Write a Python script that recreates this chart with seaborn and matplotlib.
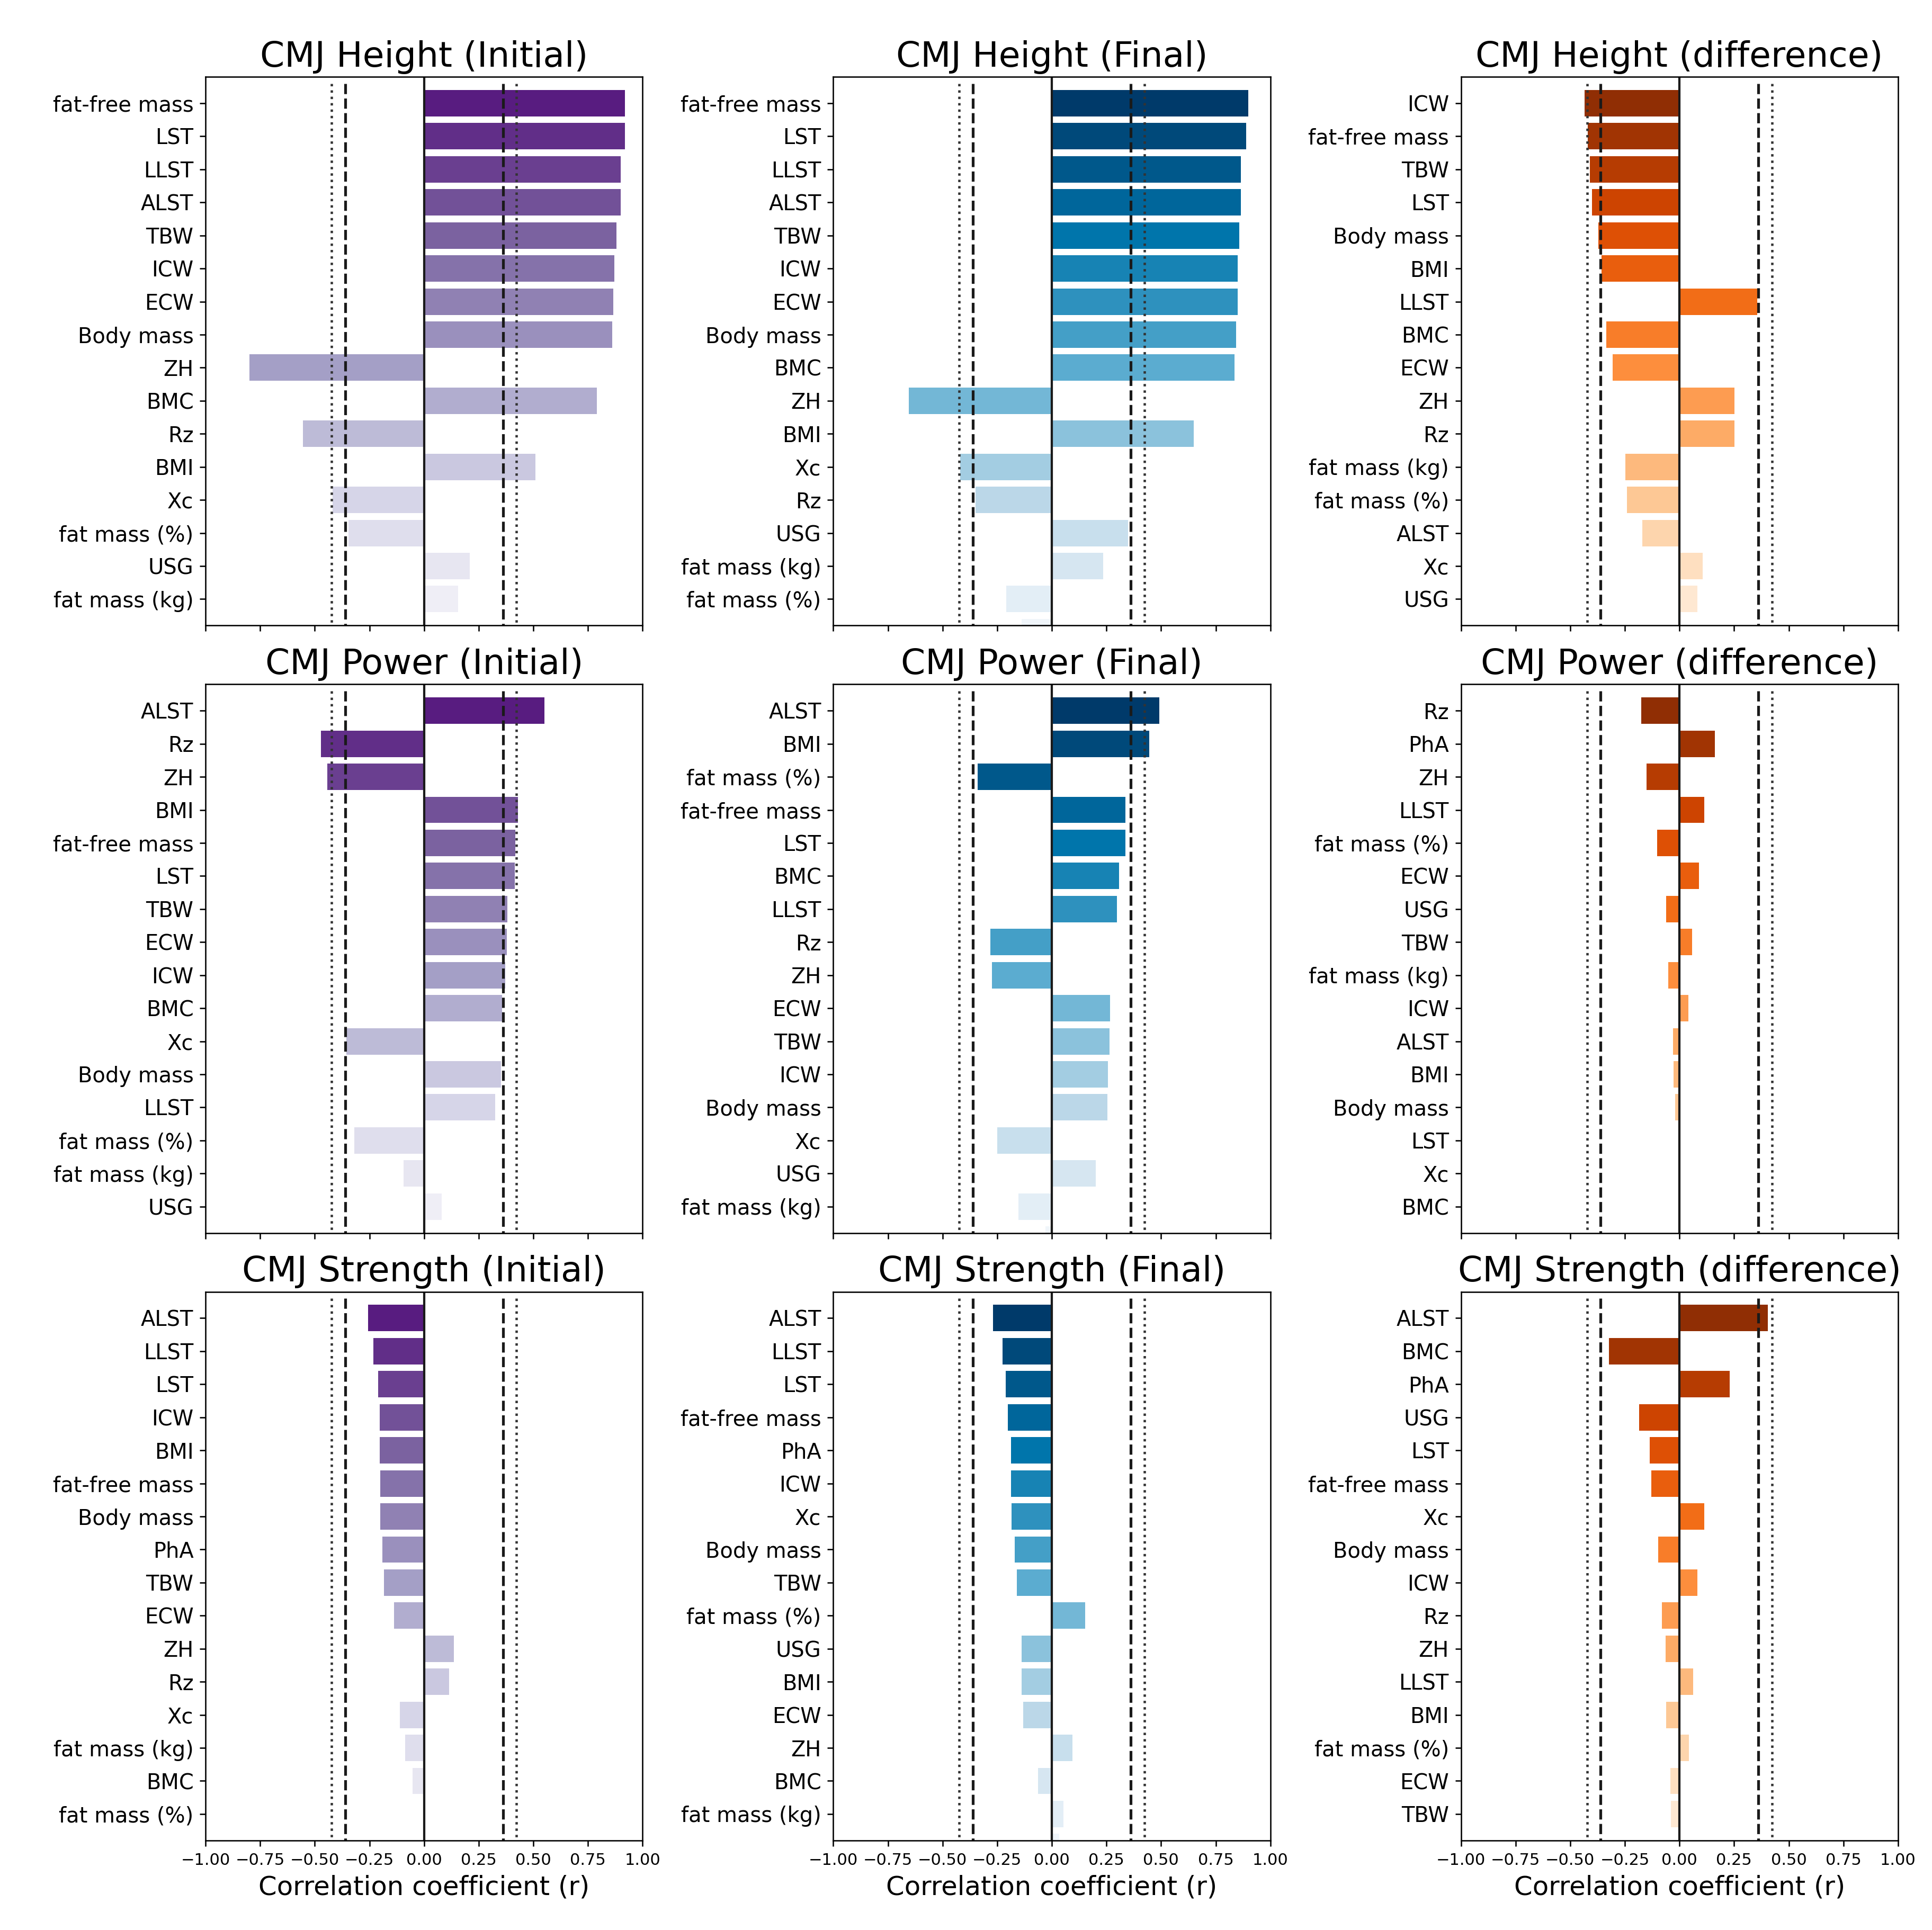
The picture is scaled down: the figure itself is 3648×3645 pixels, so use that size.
import numpy as np
import pandas as pd
import matplotlib
matplotlib.use("Agg")
import matplotlib.pyplot as plt
import seaborn as sns

# --- data ----------------------------------------------------------------
h_init_labels = ["fat-free mass", "LST", "LLST", "ALST", "TBW", "ICW", "ECW", "Body mass", "ZH", "BMC",
                 "Rz", "BMI", "Xc", "fat mass (%)", "USG", "fat mass (kg)", "PhA"]
h_init_r = [0.92, 0.918, 0.90, 0.899, 0.88, 0.87, 0.865, 0.86, -0.80, 0.79,
            -0.555, 0.51, -0.42, -0.345, 0.21, 0.155, 0.01]

h_final_labels = ["fat-free mass", "LST", "LLST", "ALST", "TBW", "ICW", "ECW", "Body mass", "BMC", "ZH",
                  "BMI", "Xc", "Rz", "USG", "fat mass (kg)", "fat mass (%)", "PhA"]
h_final_r = [0.90, 0.89, 0.866, 0.865, 0.858, 0.851, 0.85, 0.843, 0.835, -0.654,
             0.649, -0.42, -0.35, 0.348, 0.235, -0.208, -0.138]

h_diff_labels = ["ICW", "fat-free mass", "TBW", "LST", "Body mass", "BMI", "LLST", "BMC", "ECW", "ZH",
                 "Rz", "fat mass (kg)", "fat mass (%)", "ALST", "Xc", "USG", "PhA"]
h_diff_r = [-0.435, -0.42, -0.41, -0.40, -0.37, -0.356, 0.355, -0.335, -0.305, 0.252,
            0.251, -0.248, -0.24, -0.169, 0.107, 0.081, 0.005]

p_init_labels = ["ALST", "Rz", "ZH", "BMI", "fat-free mass", "LST", "TBW", "ECW", "ICW", "BMC",
                 "Xc", "Body mass", "LLST", "fat mass (%)", "fat mass (kg)", "USG", "PhA"]
p_init_r = [0.551, -0.473, -0.442, 0.429, 0.417, 0.415, 0.38, 0.379, 0.372, 0.357,
            -0.356, 0.351, 0.324, -0.32, -0.095, 0.081, 0.005]

p_final_labels = ["ALST", "BMI", "fat mass (%)", "fat-free mass", "LST", "BMC", "LLST", "Rz", "ZH", "ECW",
                  "TBW", "ICW", "Body mass", "Xc", "USG", "fat mass (kg)", "PhA"]
p_final_r = [0.493, 0.445, -0.34, 0.338, 0.337, 0.307, 0.299, -0.282, -0.274, 0.266,
             0.265, 0.256, 0.255, -0.25, 0.202, -0.153, -0.03]

p_diff_labels = ["Rz", "PhA", "ZH", "LLST", "fat mass (%)", "ECW", "USG", "TBW", "fat mass (kg)", "ICW",
                 "ALST", "BMI", "Body mass", "LST", "Xc", "BMC", "fat-free mass"]
p_diff_r = [-0.175, 0.163, -0.151, 0.113, -0.103, 0.089, -0.062, 0.058, -0.052, 0.041,
            -0.029, -0.028, -0.019, 0.003, 0.002, 0.001, 0.0]

s_init_labels = ["ALST", "LLST", "LST", "ICW", "BMI", "fat-free mass", "Body mass", "PhA", "TBW", "ECW",
                 "ZH", "Rz", "Xc", "fat mass (kg)", "BMC", "fat mass (%)", "USG"]
s_init_r = [-0.256, -0.233, -0.21, -0.203, -0.202, -0.201, -0.2, -0.192, -0.184, -0.137,
            0.136, 0.114, -0.11, -0.087, -0.054, 0.004, 0.002]

s_final_labels = ["ALST", "LLST", "LST", "fat-free mass", "PhA", "ICW", "Xc", "Body mass", "TBW",
                  "fat mass (%)", "USG", "BMI", "ECW", "ZH", "BMC", "fat mass (kg)", "Rz"]
s_final_r = [-0.268, -0.225, -0.21, -0.202, -0.187, -0.186, -0.185, -0.169, -0.161,
             0.153, -0.138, -0.137, -0.13, 0.095, -0.064, 0.054, 0.035]

s_diff_labels = ["ALST", "BMC", "PhA", "USG", "LST", "fat-free mass", "Xc", "Body mass", "ICW", "Rz",
                 "ZH", "LLST", "BMI", "fat mass (%)", "ECW", "TBW", "fat mass (kg)"]
s_diff_r = [0.405, -0.322, 0.229, -0.184, -0.136, -0.128, 0.114, -0.097, 0.081, -0.08,
            -0.064, 0.063, -0.062, 0.043, -0.041, -0.04, 0.005]

# critical r values drawn as reference lines
r_crit_dashed = 0.361
r_crit_dotted = 0.423

# colour ramps (dark -> light), matched to the reference
purples = ["#581c80", "#7b62a0", "#a49fc6", "#d6d5e8", "#f7f6fa"]
blues = ["#003a6a", "#0075ab", "#5aacd0", "#bad7e8", "#f0f5fa"]
oranges = "Oranges_r"

panels = [
    ("CMJ Height (Initial)", h_init_labels, h_init_r, purples),
    ("CMJ Height (Final)", h_final_labels, h_final_r, blues),
    ("CMJ Height (difference)", h_diff_labels, h_diff_r, oranges),
    ("CMJ Power (Initial)", p_init_labels, p_init_r, purples),
    ("CMJ Power (Final)", p_final_labels, p_final_r, blues),
    ("CMJ Power (difference)", p_diff_labels, p_diff_r, oranges),
    ("CMJ Strength (Initial)", s_init_labels, s_init_r, purples),
    ("CMJ Strength (Final)", s_final_labels, s_final_r, blues),
    ("CMJ Strength (difference)", s_diff_labels, s_diff_r, oranges),
]


def make_palette(spec, n):
    if isinstance(spec, str):
        return sns.color_palette(spec, n)
    return sns.blend_palette(spec, n_colors=n)


# --- plot -----------------------------------------------------------------
fig, axes = plt.subplots(3, 3, figsize=(15.59, 15.577), dpi=234, sharex=True)
fig.subplots_adjust(left=0.1064, right=0.9824, top=0.9602, bottom=0.0464,
                    wspace=0.436, hspace=0.107)

for ax, (title, labels, r, spec) in zip(axes.flat, panels):
    df = pd.DataFrame({"variable": labels, "r": r})
    pal = make_palette(spec, len(df))
    sns.barplot(data=df, x="r", y="variable", hue="variable", palette=pal,
                legend=False, saturation=1, width=0.8, orient="h", ax=ax)

    ax.axvline(0, color="0.1", lw=1.3)
    for s in (-1, 1):
        ax.vlines(s * r_crit_dashed, -0.6, 16.5, color="0.1", ls="--", lw=1.6)
        ax.vlines(s * r_crit_dotted, -0.6, 16.5, color="0.2", ls=":", lw=1.4)

    ax.set_xlim(-1, 1)
    ax.set_ylim(15.8, -0.8)
    ax.set_xticks(np.arange(-1, 1.01, 0.25))
    ax.set_title(title, fontsize=20.4)
    ax.set_ylabel("")
    ax.set_xlabel("")
    ax.tick_params(axis="y", labelsize=12.3)
    ax.tick_params(axis="x", labelsize=9.4)

for ax in axes[-1]:
    ax.set_xlabel("Correlation coefficient (r)", fontsize=15.3)

fig.savefig("out.png", dpi=234, facecolor="white")
